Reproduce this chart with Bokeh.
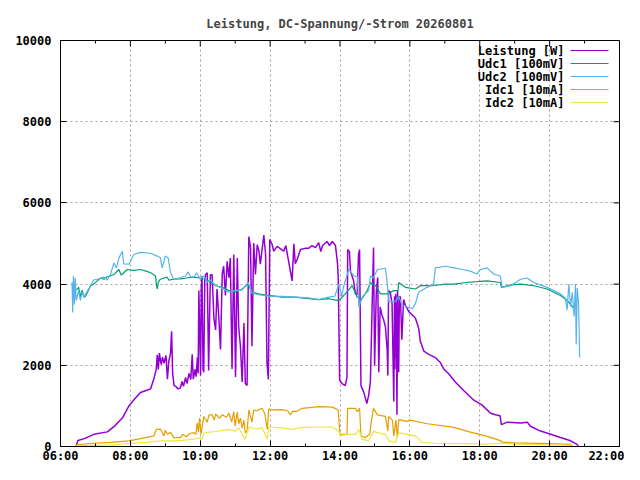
from bokeh.plotting import figure
from bokeh.resources import INLINE
from bokeh.embed import file_html
from bokeh.models import Range1d, FixedTicker, Label

# times in hours of the day, values as logged
leistung_t = [6.45, 6.46, 6.50, 6.70, 6.95, 7.34, 7.53, 7.77, 7.96, 8.15, 8.29, 8.45, 8.58, 8.67, 8.74, 8.77,
              8.80, 8.83, 8.88, 8.92, 8.96, 9.02, 9.06, 9.10, 9.15, 9.18, 9.21, 9.25, 9.30, 9.37, 9.43, 9.48,
              9.52, 9.58, 9.62, 9.68, 9.73, 9.77, 9.80, 9.85, 9.88, 9.92, 9.94, 9.96, 10.01, 10.03, 10.05,
              10.08, 10.10, 10.13, 10.15, 10.20, 10.24, 10.29, 10.34, 10.39, 10.44, 10.48, 10.53, 10.58,
              10.63, 10.67, 10.72, 10.77, 10.82, 10.86, 10.91, 10.96, 11.01, 11.06, 11.10, 11.15, 11.20,
              11.25, 11.29, 11.34, 11.39, 11.44, 11.48, 11.53, 11.58, 11.63, 11.68, 11.72, 11.77, 11.82,
              11.87, 11.91, 11.95, 11.99, 12.06, 12.10, 12.20, 12.25, 12.39, 12.45, 12.50, 12.58, 12.63,
              12.68, 12.72, 12.77, 12.87, 13.00, 13.10, 13.20, 13.30, 13.39, 13.45, 13.50, 13.63, 13.70,
              13.78, 13.87, 13.93, 13.95, 13.99, 14.06, 14.15, 14.20, 14.22, 14.27, 14.30, 14.39, 14.44,
              14.49, 14.53, 14.56, 14.60, 14.68, 14.73, 14.77, 14.82, 14.87, 14.92, 14.96, 14.99, 15.04,
              15.08, 15.11, 15.15, 15.20, 15.25, 15.30, 15.35, 15.37, 15.39, 15.44, 15.49, 15.54, 15.56,
              15.57, 15.58, 15.59, 15.60, 15.62, 15.63, 15.65, 15.66, 15.68, 15.70, 15.73, 15.77, 15.82,
              15.87, 15.92, 15.97, 16.02, 16.16, 16.25, 16.30, 16.40, 16.54, 16.73, 16.87, 16.97, 17.11,
              17.30, 17.54, 17.83, 18.07, 18.31, 18.45, 18.58, 18.62, 18.79, 19.17, 19.36, 19.45, 19.74,
              20.03, 20.31, 20.60, 20.77, 20.83]
leistung_w = [0, 50, 150, 200, 300, 360, 490, 700, 1000, 1200, 1330, 1380, 1420, 1660, 1900, 2260,
              1900, 2300, 2020, 2200, 2050, 2240, 1660, 2100, 2300, 2840, 1800, 1500, 1480, 1420, 1440, 1600,
              1480, 1700, 1550, 1800, 1650, 2270, 1660, 1900, 1720, 2200, 1800, 3840, 1750, 3900, 4200,
              1900, 1830, 4100, 4230, 4280, 1870, 4230, 4230, 3160, 2870, 3880, 3200, 2390,
              4250, 4440, 3720, 4560, 4160, 4640, 1910, 4730, 1710, 4640, 2950, 2470, 1590,
              3040, 1550, 1500, 5170, 4890, 2470, 5010, 4240, 4970, 4810, 4490, 4850, 5210,
              4730, 2070, 1650, 5100, 4970, 4810, 4930, 4900, 4810, 4950, 4700, 4320, 4080,
              4990, 4500, 4600, 4850, 4880, 4880, 4950, 4900, 5020, 4800, 4950, 5050, 4950,
              5050, 4950, 4500, 4130, 1630, 1550, 1500, 1710, 4850, 4800, 4320, 4080, 3760,
              3740, 4730, 4850, 1500, 1340, 1180, 1060, 1260, 1590, 3480, 4900, 1990, 3840,
              4160, 1830, 3440, 3240, 3120, 2950, 2390, 1750, 3840, 3800, 3520, 1110, 3700,
              1900, 3600, 2200, 3760, 2100, 780, 3840, 2000, 1830, 3700, 3680, 2630, 3620,
              3480, 3400, 3320, 3280, 3160, 2920, 2590, 2350, 2270, 2190, 2070, 1910, 1790,
              1590, 1380, 1140, 1020, 820, 780, 760, 540, 600, 580, 600, 500, 380,
              300, 220, 140, 60, 0]

udc1_t = [6.45, 6.52, 6.57, 6.62, 6.67, 6.72, 6.80, 6.86, 6.95, 7.05, 7.15, 7.24, 7.34, 7.43, 7.55, 7.67,
          7.74, 7.81, 7.91, 8.10, 8.29, 8.45, 8.58, 8.72, 8.75, 8.77, 8.80, 8.86, 9.05, 9.10, 9.24, 9.43,
          9.60, 9.82, 10.00, 10.15, 10.30, 10.44, 10.63, 10.82, 11.00, 11.20, 11.37, 11.48, 11.67, 11.96,
          12.34, 12.72, 13.10, 13.39, 13.68, 13.92, 14.00, 14.15, 14.35, 14.49, 14.63, 14.78, 14.87,
          15.02, 15.16, 15.35, 15.54, 15.66, 15.68, 15.87, 16.16, 16.30, 16.64, 17.02, 17.26, 17.60,
          17.92, 18.21, 18.59, 18.62, 18.90, 19.17, 19.55, 19.93, 20.31, 20.50, 20.69, 20.75]
udc1_v = [3850, 3920, 3700, 3850, 3680, 3700, 3850, 3960, 4000, 4080, 4150, 4120, 4180, 4200, 4250, 4360,
          4220, 4280, 4360, 4340, 4360, 4320, 4280, 4200, 3950, 3880, 4050, 4120, 4170, 4100, 4120, 4130,
          4150, 4170, 4150, 4120, 4050, 3960, 3920, 3840, 3800, 3880, 4000, 3800, 3760, 3720,
          3680, 3680, 3640, 3620, 3640, 3600, 3620, 3760, 3960, 3680, 3640, 3840, 4040,
          3960, 3760, 3760, 3840, 3840, 4040, 3920, 3880, 3960, 3960, 4000, 4000, 4040,
          4060, 4080, 4040, 3920, 3980, 4000, 3960, 3880, 3720, 3600, 3400, 3500]

udc2_t = [6.33, 6.35, 6.37, 6.40, 6.42, 6.45, 6.52, 6.57, 6.62, 6.67, 6.75, 6.86, 6.95, 7.05, 7.24, 7.34,
          7.43, 7.53, 7.60, 7.67, 7.77, 7.81, 7.96, 8.10, 8.29, 8.58, 8.77, 8.86, 8.91, 9.00, 9.08, 9.15,
          9.24, 9.39, 9.58, 9.65, 9.72, 9.82, 9.90, 10.00, 10.10, 10.20, 10.30, 10.44, 10.63, 10.82,
          11.00, 11.20, 11.37, 11.48, 11.67, 11.96, 12.34, 12.72, 13.10, 13.39, 13.68, 13.85, 13.97,
          14.05, 14.11, 14.25, 14.40, 14.50, 14.54, 14.65, 14.82, 14.87, 14.95, 15.07, 15.30, 15.35,
          15.40, 15.60, 15.68, 15.78, 15.92, 16.07, 16.16, 16.25, 16.49, 16.68, 16.73, 17.02, 17.26,
          17.50, 17.73, 17.92, 18.02, 18.21, 18.40, 18.59, 18.64, 18.88, 19.17, 19.36, 19.55, 19.93,
          20.12, 20.31, 20.45, 20.50, 20.55, 20.60, 20.65, 20.70, 20.74, 20.76, 20.79, 20.83, 20.86]
udc2_v = [4040, 3300, 4200, 3500, 4150, 3600, 3840, 3600, 3800, 3680, 3800, 3960, 4100, 4120, 4170, 4100,
          4240, 4520, 4400, 4640, 4810, 4500, 4490, 4730, 4780, 4760, 4690, 4650, 4400, 4690, 4650, 4280,
          4120, 4150, 4200, 4300, 4180, 4170, 4280, 4120, 4200, 4050, 4100, 3960, 3900, 3800,
          3840, 3860, 4040, 3780, 3740, 3700, 3700, 3680, 3660, 3620, 3680, 3700, 4000,
          3700, 3960, 4360, 4200, 4180, 3440, 3700, 3840, 4200, 4150, 4360, 4390, 4040,
          3560, 3580, 3700, 3480, 3440, 3400, 3520, 3800, 3920, 4000, 4400, 4440, 4400,
          4360, 4320, 4250, 4360, 4400, 4250, 4200, 3920, 3960, 4120, 4150, 4040, 3920,
          3840, 3760, 3650, 3360, 4000, 3450, 3800, 3200, 4000, 2510, 3900, 3480, 2190]

idc1_t = [6.45, 6.46, 6.95, 7.43, 7.96, 8.44, 8.67, 8.74, 8.86, 8.96, 9.00, 9.06, 9.15, 9.24, 9.43, 9.50,
          9.60, 9.70, 9.82, 9.88, 9.91, 9.95, 9.98, 10.02, 10.10, 10.20, 10.25, 10.34, 10.40, 10.44,
          10.55, 10.63, 10.75, 10.82, 10.90, 10.96, 11.00, 11.06, 11.10, 11.15, 11.20, 11.25, 11.29,
          11.34, 11.39, 11.48, 11.53, 11.60, 11.77, 11.85, 11.92, 11.96, 12.06, 12.34, 12.50, 12.58,
          12.65, 12.75, 12.92, 13.39, 13.78, 13.95, 14.00, 14.20, 14.22, 14.44, 14.50, 14.56, 14.60,
          14.73, 14.85, 14.89, 14.96, 15.07, 15.30, 15.37, 15.39, 15.50, 15.54, 15.60, 15.64, 15.68,
          15.92, 16.00, 16.50, 17.00, 17.26, 17.70, 18.00, 18.40, 18.60, 18.64, 19.00, 20.00, 20.60, 20.65]
idc1_v = [0, 40, 80, 100, 140, 220, 260, 420, 430, 260, 400, 300, 350, 220, 220, 300,
          240, 320, 340, 300, 580, 360, 700, 300, 740, 600, 780, 780, 650, 800,
          700, 780, 720, 820, 600, 860, 500, 850, 560, 700, 450, 650, 340,
          380, 900, 600, 900, 880, 940, 800, 420, 930, 900, 910, 880, 780,
          870, 860, 940, 980, 970, 900, 300, 300, 940, 940, 860, 940, 260,
          220, 300, 580, 940, 780, 740, 380, 740, 650, 260, 650, 220, 660,
          620, 650, 560, 500, 470, 360, 300, 200, 140, 110, 90, 70, 50, 0]

idc2_t = [6.45, 6.48, 7.43, 8.44, 8.86, 9.34, 9.82, 10.00, 10.05, 10.10, 10.20, 10.44, 10.82, 11.00,
          11.10, 11.20, 11.29, 11.39, 11.60, 11.77, 11.92, 11.96, 12.34, 12.63, 12.92, 13.39, 13.78,
          13.97, 14.00, 14.22, 14.44, 14.54, 14.63, 14.82, 14.97, 15.07, 15.30, 15.40, 15.59, 15.68,
          15.92, 16.16, 16.35, 16.73, 17.50, 18.21, 18.64, 19.00, 20.12, 20.60, 20.62]
idc2_v = [0, 20, 40, 100, 140, 140, 180, 220, 180, 330, 350, 370, 420, 380,
          460, 300, 180, 480, 430, 460, 180, 480, 460, 420, 470, 480, 480,
          370, 270, 300, 300, 420, 180, 140, 380, 340, 300, 140, 100, 340,
          300, 260, 100, 80, 70, 60, 80, 60, 40, 30, 0]

series = [
    ("Leistung [W]", leistung_t, leistung_w, "#9400d3", 1.5),
    ("Udc1 [100mV]", udc1_t, udc1_v, "#009e73", 1.2),
    ("Udc2 [100mV]", udc2_t, udc2_v, "#56b4e9", 1.2),
    ("Idc1 [10mA]", idc1_t, idc1_v, "#e69f00", 1.2),
    ("Idc2 [10mA]", idc2_t, idc2_v, "#f0e442", 1.2),
]

x_ticks = [6, 8, 10, 12, 14, 16, 18, 20, 22]
x_labels = ["06:00", "08:00", "10:00", "12:00", "14:00", "16:00", "18:00", "20:00", "22:00"]
x_minor = [7, 9, 11, 13, 15, 17, 19, 21]
y_ticks = [0, 2000, 4000, 6000, 8000, 10000]

X0, X1, Y0, Y1 = 6, 22, 0, 10000
FW, FH = 559, 406
MONO = "DejaVu Sans Mono"

p = figure(frame_width=FW, frame_height=FH, x_range=Range1d(X0, X1), y_range=Range1d(Y0, Y1),
           output_backend="svg", toolbar_location=None,
           min_border_left=60, min_border_right=5, min_border_top=40, min_border_bottom=18,
           title="Leistung, DC-Spannung/-Strom 20260801")
p.title.align = "center"
p.title.text_font = MONO
p.title.text_font_size = "12px"
p.title.text_font_style = "bold"
p.title.standoff = 20
p.outline_line_color = "black"
p.outline_line_alpha = 1
p.background_fill_color = "white"
p.border_fill_color = "white"


def style_axis(ax):
    ax.axis_line_color = "black"
    ax.major_tick_in = 6
    ax.major_tick_out = 0
    ax.minor_tick_in = 3
    ax.minor_tick_out = 0
    ax.major_tick_line_color = "black"
    ax.minor_tick_line_color = "black"
    ax.major_label_text_font = MONO
    ax.major_label_text_font_style = "bold"
    ax.major_label_text_font_size = "12px"
    ax.major_label_text_color = "black"


xt = FixedTicker(ticks=x_ticks, minor_ticks=x_minor)
yt = FixedTicker(ticks=y_ticks, minor_ticks=[])

xa = p.xaxis[0]
xa.ticker = xt
xa.major_label_overrides = {t: l for t, l in zip(x_ticks, x_labels)}
style_axis(xa)
xa.major_label_standoff = 2

ya = p.yaxis[0]
ya.ticker = yt
style_axis(ya)
ya.major_label_standoff = 9

for g in (p.xgrid[0], p.ygrid[0]):
    g.grid_line_color = "#a0a0a0"
    g.grid_line_dash = "2 3"
    g.grid_line_width = 1
p.xgrid[0].ticker = xt
p.ygrid[0].ticker = yt

# mirrored ticks on the top and right border, lengths in pixels
px_x = (X1 - X0) / FW
px_y = (Y1 - Y0) / FH
top_x = x_ticks + x_minor
top_len = [6 * px_y] * len(x_ticks) + [3 * px_y] * len(x_minor)
p.segment(x0=top_x, y0=[Y1] * len(top_x), x1=top_x, y1=[Y1 - d for d in top_len],
          line_color="black", line_width=1)
p.segment(x0=[X1] * len(y_ticks), y0=y_ticks, x1=[X1 - 6 * px_x] * len(y_ticks), y1=y_ticks,
          line_color="black", line_width=1)

for name, t, v, color, lw in series:
    p.line(t, v, line_color=color, line_width=lw)

# key in the upper right corner, text right-aligned, sample to the right
key_text_x = X1 - 55 * px_x
key_line_x = [X1 - 49 * px_x, X1 - 11 * px_x]
key_top = Y1 - 10 * px_y
key_step = 13 * px_y
for i, (name, t, v, color, lw) in enumerate(series):
    ky = key_top - i * key_step
    p.add_layout(Label(x=key_text_x, y=ky, text=name, text_align="right", text_baseline="middle",
                       text_font=MONO, text_font_size="12px", text_font_style="bold",
                       text_color="black"))
    p.line(key_line_x, [ky, ky], line_color=color, line_width=1.2)

open("out.html", "w").write(file_html(p, INLINE))
